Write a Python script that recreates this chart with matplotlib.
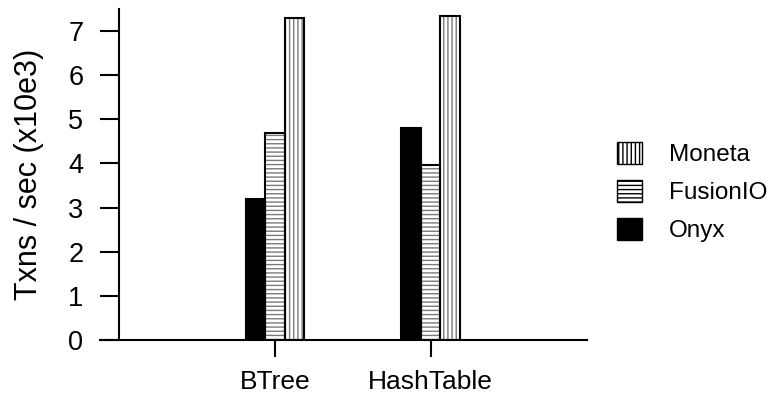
import matplotlib
matplotlib.use("Agg")
import matplotlib.pyplot as plt
import numpy as np
from matplotlib.patches import Patch

categories = ["BTree", "HashTable"]
series = ["Onyx", "FusionIO", "Moneta"]
onyx = [3.19, 4.81]
fusionio = [4.69, 3.97]
moneta = [7.29, 7.34]
yticks = [0, 1, 2, 3, 4, 5, 6, 7]

plt.rcParams['font.family'] = ['Liberation Sans', 'DejaVu Sans']
plt.rcParams['hatch.linewidth'] = 1.0

W, H = 779, 398
fig = plt.figure(figsize=(W / 100, H / 100), dpi=100)
# axes spans x 100..587, y 9..340 (pixels)
ax = fig.add_axes([100 / W, (H - 340) / H, 487 / W, 331 / H])
for s in ['top', 'right']:
    ax.spines[s].set_visible(False)
ax.spines['left'].set_position(('axes', 19 / 487))

x = np.arange(len(categories))
bw = 0.125
vals = [onyx, fusionio, moneta]
hatches = [None, '----', '||||']
fills = ['black', 'white', 'white']
for i, (v, h, fc) in enumerate(zip(vals, hatches, fills)):
    pos = x + (i - 1) * bw
    if h:
        ax.bar(pos, v, bw, color=fc, edgecolor='#7a7a7a', hatch=h, linewidth=0, zorder=2)
    else:
        ax.bar(pos, v, bw, color=fc, linewidth=0, zorder=2)
    ax.bar(pos, v, bw, fill=False, edgecolor='black', linewidth=1.5, zorder=3)

ax.set_xlim(-1.124, 2.004)
ax.set_ylim(0, 7.5)
ax.set_xticks(x)
ax.set_xticklabels(categories)
ax.set_yticks(yticks)
ax.set_yticklabels([str(t) for t in yticks])

ax.spines['left'].set_linewidth(1.5)
ax.spines['bottom'].set_linewidth(1.5)
ax.tick_params(axis='y', length=13.7, width=1.5, pad=12, labelsize=19.5)
ax.tick_params(axis='x', length=12.5, width=1.5, pad=9, labelsize=19)

ax.set_ylabel("Txns / sec (x10e3)", fontsize=22)
ax.yaxis.set_label_coords((44 - 100) / 487, 0.5)

handles = [
    Patch(facecolor='white', edgecolor='black', hatch='||||', label='Moneta'),
    Patch(facecolor='white', edgecolor='black', hatch='----', label='FusionIO'),
    Patch(facecolor='black', edgecolor='black', label='Onyx'),
]
fig.legend(handles=handles, loc='center left', bbox_to_anchor=(595 / W, (H - 192) / H),
           frameon=False, fontsize=17.5, handlelength=1.05, handleheight=1.05,
           handletextpad=1.1, labelspacing=0.55)

fig.savefig("out.png", dpi=100)
